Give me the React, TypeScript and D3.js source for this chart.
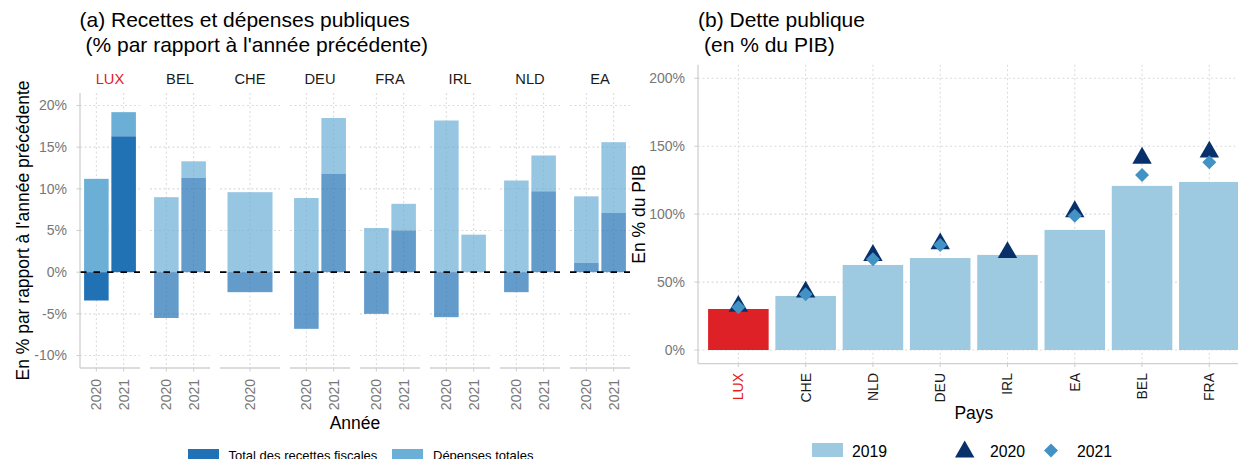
import React from 'react';
import * as d3 from 'd3';

// ---------- Panel (a) data ----------
const facetCountries = ['LUX', 'BEL', 'CHE', 'DEU', 'FRA', 'IRL', 'NLD', 'EA'];
const obsCountry = ['LUX', 'LUX', 'BEL', 'BEL', 'CHE', 'DEU', 'DEU', 'FRA', 'FRA', 'IRL', 'IRL', 'NLD', 'NLD', 'EA', 'EA'];
const obsYear = ['2020', '2021', '2020', '2021', '2020', '2020', '2021', '2020', '2021', '2020', '2021', '2020', '2021', '2020', '2021'];
const recettes: (number | null)[] = [-3.4, 16.3, -5.5, 11.3, -2.4, -6.8, 11.8, -5.0, 5.0, -5.4, null, -2.4, 9.7, 1.1, 7.1];
const depenses = [11.2, 19.2, 9.0, 13.3, 9.6, 8.9, 18.5, 5.3, 8.2, 18.2, 4.5, 11.0, 14.0, 9.1, 15.6];
const yTicksA = [-10, -5, 0, 5, 10, 15, 20];

// ---------- Panel (b) data ----------
const debtCountries = ['LUX', 'CHE', 'NLD', 'DEU', 'IRL', 'EA', 'BEL', 'FRA'];
const debt2019 = [30.2, 39.8, 62.6, 67.7, 70.0, 88.4, 120.8, 123.7];
const debt2020 = [32.3, 42.7, 69.7, 78.2, 71.9, 101.9, 141.3, 145.8];
const debt2021: (number | null)[] = [31.5, 41.0, 66.8, 77.3, null, 98.9, 128.8, 138.2];
const yTicksB = [0, 50, 100, 150, 200];

const FONT = '"Liberation Sans", Arial, Helvetica, sans-serif';
const GRID = '#dcdcdc';
const AXIS = '#d0d0d0';
const TICKTXT = '#777777';
const RED = '#e41a1c';

export default function App() {
  // ---- panel a geometry
  const aTop = 93, aBottom = 368;
  const facetW = 60, facetGap = 10, aLeft = 80;
  const yA = d3.scaleLinear().domain([-11.5, 21.5]).range([aBottom, aTop]);

  // ---- panel b geometry
  const bLeft = 698, bRight = 1249.7, bTop = 64.7, bBottom = 363.6;
  const yB = d3.scaleLinear().domain([-10, 210]).range([bBottom, bTop]);
  const xB = d3.scalePoint<string>().domain(debtCountries).range([bLeft, bRight]).padding(0.6);
  const barWB = xB.step() * 0.9;

  const tri = d3.symbol().type(d3.symbolTriangle).size(163)()!;
  const dia = d3.symbol().type(d3.symbolSquare).size(98)()!;

  const fmtPct = (v: number) => `${v}%`;

  const facets = facetCountries.map((c, fi) => {
    const x0 = aLeft + fi * (facetW + facetGap);
    const idx = obsCountry.map((oc, i) => (oc === c ? i : -1)).filter((i) => i >= 0);
    const years = idx.map((i) => obsYear[i]);
    const xs = d3.scalePoint<string>().domain(years).range([x0, x0 + facetW]).padding(0.6);
    const bw = xs.step() * 0.9;
    const isLux = c === 'LUX';
    const op = isLux ? 1 : 0.7;
    return (
      <g key={c}>
        {yTicksA.map((t) => (
          <line key={'h' + t} x1={x0} x2={x0 + facetW} y1={yA(t)} y2={yA(t)} stroke={GRID} strokeWidth={1.1} strokeDasharray="2 2.5" />
        ))}
        {years.map((yr) => (
          <line key={'v' + yr} x1={xs(yr)} x2={xs(yr)} y1={aTop} y2={aBottom} stroke={GRID} strokeWidth={1.1} strokeDasharray="2 2.5" />
        ))}
        {idx.map((i) => {
          const yr = obsYear[i];
          const cx = xs(yr)!;
          const dep = depenses[i];
          const rec = recettes[i];
          const lo = rec != null && rec > 0 && dep > 0 ? Math.min(rec, dep) : 0;
          return (
            <g key={yr}>
              <rect x={cx - bw / 2} width={bw} y={yA(Math.max(dep, lo))} height={Math.abs(yA(lo) - yA(dep))} fill="#6baed6" fillOpacity={op} />
              {rec != null && (
                <rect x={cx - bw / 2} width={bw} y={yA(Math.max(rec, 0))} height={Math.abs(yA(0) - yA(rec))} fill="#2171b5" fillOpacity={op} />
              )}
            </g>
          );
        })}
        <line x1={x0} x2={x0 + facetW} y1={yA(0)} y2={yA(0)} stroke="#000" strokeWidth={1.8} strokeDasharray="6.5 7" />
        <line x1={x0} x2={x0 + facetW} y1={aBottom} y2={aBottom} stroke={AXIS} strokeWidth={1.3} />
        {years.map((yr) => (
          <g key={'t' + yr}>
            <line x1={xs(yr)} x2={xs(yr)} y1={aBottom} y2={aBottom + 3.5} stroke={AXIS} strokeWidth={1.1} />
            <text transform={`translate(${xs(yr)},379) rotate(-90)`} textAnchor="end" dy="0.35em" fontSize={14} fill={TICKTXT}>
              {yr}
            </text>
          </g>
        ))}
        <text x={x0 + facetW / 2} y={84} textAnchor="middle" fontSize={14.7} fill={isLux ? RED : '#1a1a1a'}>
          {c}
        </text>
      </g>
    );
  });

  return (
    <svg width={1238} height={459} style={{ position: 'absolute', left: 0, top: 0, overflow: 'hidden', background: '#fff' }} fontFamily={FONT}>
      <rect x={0} y={0} width={1238} height={459} fill="#fff" />
      {/* ================= Panel (a) ================= */}
      <text x={79.5} y={26.5} fontSize={21} fill="#000">(a) Recettes et dépenses publiques</text>
      <text x={85.5} y={51.5} fontSize={21} fill="#000">(% par rapport à l'année précédente)</text>

      {facets}

      <line x1={aLeft} x2={aLeft} y1={aTop} y2={aBottom} stroke={AXIS} strokeWidth={1.3} />
      {yTicksA.map((t) => (
        <g key={'ya' + t}>
          <line x1={aLeft - 3.5} x2={aLeft} y1={yA(t)} y2={yA(t)} stroke={AXIS} strokeWidth={1.1} />
          <text x={67} y={yA(t)} dy="0.35em" textAnchor="end" fontSize={14} fill={TICKTXT}>
            {fmtPct(t)}
          </text>
        </g>
      ))}
      <text transform={`translate(29,${(aTop + aBottom) / 2}) rotate(-90)`} textAnchor="middle" fontSize={17.5} fill="#000">
        En % par rapport à l'année précédente
      </text>
      <text x={(aLeft + 630) / 2} y={429} textAnchor="middle" fontSize={17.5} fill="#000">Année</text>

      {/* legend a */}
      <rect x={188} y={449} width={31} height={17} fill="#2171b5" />
      <text x={228.5} y={460} fontSize={13} fill="#000">Total des recettes fiscales</text>
      <rect x={392} y={449} width={31} height={17} fill="#6baed6" />
      <text x={433} y={460} fontSize={13} fill="#000">Dépenses totales</text>

      {/* ================= Panel (b) ================= */}
      <text x={698} y={26.5} fontSize={21} fill="#000">(b) Dette publique</text>
      <text x={704} y={51.5} fontSize={21} fill="#000">(en % du PIB)</text>

      {yTicksB.map((t) => (
        <line key={'gh' + t} x1={bLeft} x2={bRight} y1={yB(t)} y2={yB(t)} stroke={GRID} strokeWidth={1.1} strokeDasharray="2 2.5" />
      ))}
      {debtCountries.map((c) => (
        <line key={'gv' + c} x1={xB(c)} x2={xB(c)} y1={bTop} y2={bBottom} stroke={GRID} strokeWidth={1.1} strokeDasharray="2 2.5" />
      ))}
      {debtCountries.map((c, i) => (
        <rect key={'b' + c} x={xB(c)! - barWB / 2} width={barWB} y={yB(debt2019[i])} height={yB(0) - yB(debt2019[i])} fill={c === 'LUX' ? '#de2027' : '#9ecae1'} />
      ))}
      {debtCountries.map((c, i) => (
        <path key={'tr' + c} d={tri} transform={`translate(${xB(c)},${yB(debt2020[i])})`} fill="#08306b" />
      ))}
      {debtCountries.map((c, i) => {
        const v = debt2021[i];
        if (v == null) return null;
        return <path key={'di' + c} d={dia} transform={`translate(${xB(c)},${yB(v)}) rotate(45)`} fill="#4292c6" />;
      })}

      <line x1={bLeft} x2={bLeft} y1={bTop} y2={bBottom} stroke={AXIS} strokeWidth={1.3} />
      <line x1={bLeft} x2={bRight} y1={bBottom} y2={bBottom} stroke={AXIS} strokeWidth={1.3} />
      {yTicksB.map((t) => (
        <g key={'yb' + t}>
          <line x1={bLeft - 3.5} x2={bLeft} y1={yB(t)} y2={yB(t)} stroke={AXIS} strokeWidth={1.1} />
          <text x={685} y={yB(t)} dy="0.35em" textAnchor="end" fontSize={14} fill={TICKTXT}>
            {fmtPct(t)}
          </text>
        </g>
      ))}
      {debtCountries.map((c) => (
        <g key={'xb' + c}>
          <line x1={xB(c)} x2={xB(c)} y1={bBottom} y2={bBottom + 3.5} stroke={AXIS} strokeWidth={1.1} />
          <text transform={`translate(${xB(c)},373) rotate(-90)`} textAnchor="end" dy="0.35em" fontSize={14} fill={c === 'LUX' ? RED : '#1a1a1a'}>
            {c}
          </text>
        </g>
      ))}
      <text transform={`translate(645,${(bTop + bBottom) / 2}) rotate(-90)`} textAnchor="middle" fontSize={17.5} fill="#000">
        En % du PIB
      </text>
      <text x={(bLeft + bRight) / 2} y={419} textAnchor="middle" fontSize={17.5} fill="#000">Pays</text>

      {/* legend b */}
      <rect x={812} y={443} width={31} height={14} fill="#9ecae1" />
      <text x={852} y={456.5} fontSize={15.8} fill="#000">2019</text>
      <path d={tri} transform="translate(964.7,451.8)" fill="#08306b" />
      <text x={990} y={456.5} fontSize={15.8} fill="#000">2020</text>
      <path d={dia} transform="translate(1051,450.5) rotate(45)" fill="#4292c6" />
      <text x={1077} y={456.5} fontSize={15.8} fill="#000">2021</text>
    </svg>
  );
}
